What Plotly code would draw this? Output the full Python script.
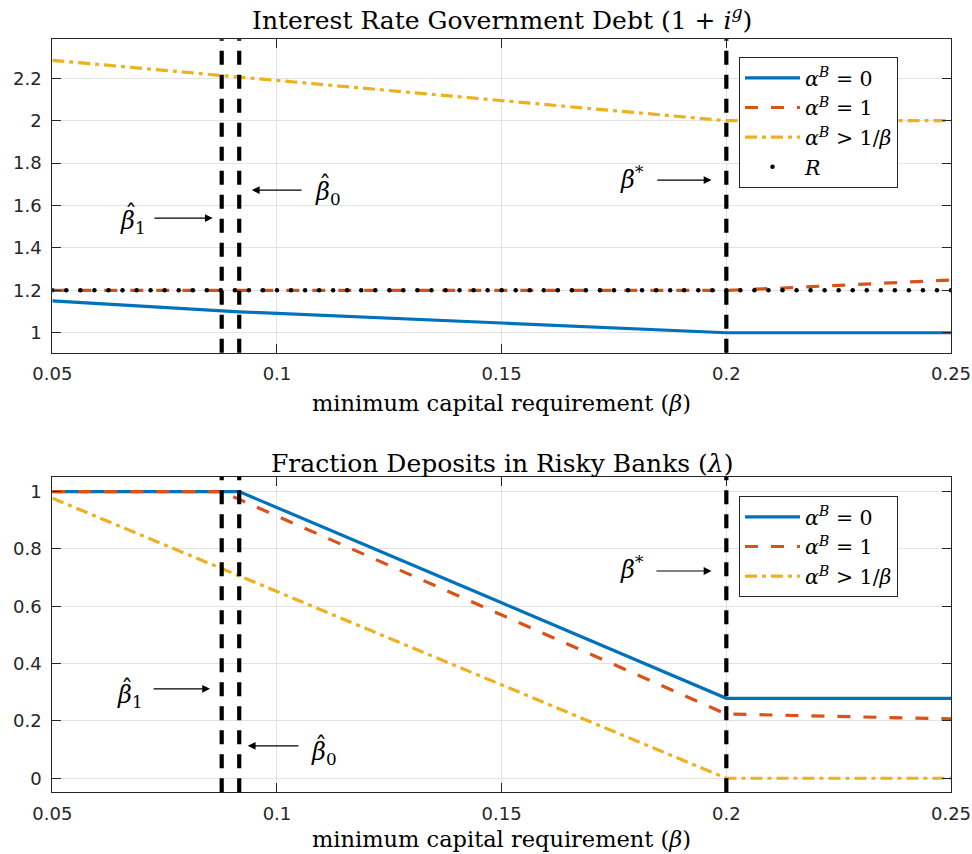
import plotly.graph_objects as go

# ---- data -------------------------------------------------------------
beta = [0.05, 0.0877, 0.0916, 0.15, 0.2, 0.2125, 0.225, 0.2375, 0.25]

# interest rate on government debt (1 + i^g)
rate_alpha0 = [1.150, 1.104, 1.099, 1.046, 1.000, 1.000, 1.000, 1.000, 1.000]
rate_alpha1 = [1.200, 1.200, 1.200, 1.200, 1.200, 1.211, 1.223, 1.236, 1.249]
rate_alpha_hi = [2.285, 2.214, 2.207, 2.095, 2.000, 2.000, 2.000, 2.000, 2.000]

# fraction of deposits in risky banks (lambda)
lam_alpha0 = [1.000, 1.000, 1.000, 0.612, 0.279, 0.279, 0.279, 0.279, 0.279]
lam_alpha1 = [1.000, 1.000, 0.973, 0.569, 0.224, 0.220, 0.216, 0.211, 0.207]
lam_alpha_hi = [0.977, 0.731, 0.706, 0.326, 0.000, 0.000, 0.000, 0.000, 0.000]

# gross return R on the fine beta grid
r_beta = [round(0.05 + 0.003125 * k, 6) for k in range(65)]
r_value = [1.2] * len(r_beta)

# thresholds
beta_hat_1 = 0.0877
beta_hat_0 = 0.0916
beta_star = 0.2

x_ticks = [0.05, 0.1, 0.15, 0.2, 0.25]
x_ticktext = ["0.05", "0.1", "0.15", "0.2", "0.25"]
y1_ticks = [1, 1.2, 1.4, 1.6, 1.8, 2, 2.2]
y1_ticktext = ["1", "1.2", "1.4", "1.6", "1.8", "2", "2.2"]
y2_ticks = [0, 0.2, 0.4, 0.6, 0.8, 1]
y2_ticktext = ["0", "0.2", "0.4", "0.6", "0.8", "1"]

names = ["<i>α</i><sup><i>B</i></sup> = 0",
         "<i>α</i><sup><i>B</i></sup> = 1",
         "<i>α</i><sup><i>B</i></sup> &gt; 1/<i>β</i>",
         "<i>R</i>"]

# ---- styles -----------------------------------------------------------
BLUE, RED, YELLOW = "#0072BD", "#D95319", "#EDB120"
AX = "#262626"
GRID = "#e3e3e3"
SERIF = "DejaVu Serif"
SANS = "DejaVu Sans"
LW = 3.2
DASH = "13px,13px"
DASHDOT = "12px,5px,4px,5px"
VDASH = "14px,10px"

fig = go.Figure()

panels = [
    ("x", "y", "legend", [rate_alpha0, rate_alpha1, rate_alpha_hi]),
    ("x2", "y2", "legend2", [lam_alpha0, lam_alpha1, lam_alpha_hi]),
]
for xa, ya, leg, series in panels:
    for vals, name, color, dash in zip(series, names[:3], [BLUE, RED, YELLOW],
                                       ["solid", DASH, DASHDOT]):
        fig.add_trace(go.Scatter(
            x=beta, y=vals, mode="lines", name=name, xaxis=xa, yaxis=ya,
            legend=leg, line=dict(color=color, width=LW, dash=dash)))
    if xa == "x":
        fig.add_trace(go.Scatter(
            x=r_beta, y=r_value, mode="markers", name=names[3],
            xaxis=xa, yaxis=ya, legend=leg,
            marker=dict(color="black", size=4.5)))

# ---- axes -------------------------------------------------------------
xdom = [52.3 / 972, 951 / 972]
common = dict(showline=True, linecolor=AX, linewidth=1.2, mirror="ticks",
              ticks="inside", ticklen=9, tickcolor=AX, tickwidth=1.2,
              showgrid=True, gridcolor=GRID, gridwidth=1, zeroline=False,
              automargin=False,
              tickfont=dict(family=SANS, size=18, color=AX))

fig.update_layout(
    xaxis=dict(domain=xdom, range=[0.05, 0.25], tickvals=x_ticks,
               ticktext=x_ticktext, anchor="y", ticklabelstandoff=5, **common),
    yaxis=dict(domain=[1 - 352.7 / 854, 1 - 39.3 / 854], range=[0.906, 2.384],
               tickvals=y1_ticks, ticktext=y1_ticktext, anchor="x",
               ticklabelstandoff=6, **common),
    xaxis2=dict(domain=xdom, range=[0.05, 0.25], tickvals=x_ticks,
                ticktext=x_ticktext, anchor="y2", ticklabelstandoff=5, **common),
    yaxis2=dict(domain=[1 - 792.3 / 854, 1 - 476.7 / 854], range=[-0.049, 1.052],
                tickvals=y2_ticks, ticktext=y2_ticktext, anchor="x2",
                ticklabelstandoff=6, **common),
)

# threshold lines
shapes = []
for xa, ya in [("x", "y"), ("x2", "y2")]:
    for b in [beta_hat_1, beta_hat_0, beta_star]:
        shapes.append(dict(type="line", xref=xa, yref=f"{ya} domain",
                           x0=b, x1=b, y0=0, y1=1, layer="above",
                           line=dict(color="black", width=4.2, dash=VDASH)))
fig.update_layout(shapes=shapes)

# ---- annotations ------------------------------------------------------
ann = []


def arrow(xa, ya, tail, head, y):
    ann.append(dict(x=head, y=y, ax=tail, ay=y, xref=xa, yref=ya,
                    axref=xa, ayref=ya, text="", showarrow=True,
                    arrowhead=2, arrowsize=1.3, arrowwidth=1.2,
                    arrowcolor="black", standoff=0, startstandoff=0))


def text(xa, ya, x, y, txt, anchor="center", size=24):
    ann.append(dict(x=x, y=y, xref=xa, yref=ya, text=txt, showarrow=False,
                    xanchor=anchor, yanchor="middle",
                    font=dict(family=SERIF, size=size, color="black")))


def hat_label(xa, ya, x, y, sub, hx, hy):
    # beta with subscript, plus a circumflex placed over the beta
    text(xa, ya, x, y, f"<i>β</i><sub>{sub}</sub>", anchor="left")
    text(xa, ya, hx, hy, "ˆ", size=24)


star = "<i>β</i><sup>*</sup>"

# top panel
arrow("x", "y", 0.0724, 0.0857, 1.541)
hat_label("x", "y", 0.0646, 1.522, "1", 0.0675, 1.560)
arrow("x", "y", 0.1058, 0.0944, 1.673)
hat_label("x", "y", 0.1080, 1.659, "0", 0.1107, 1.697)
arrow("x", "y", 0.1843, 0.1967, 1.720)
text("x", "y", 0.1790, 1.730, star)

# bottom panel
arrow("x2", "y2", 0.0722, 0.0851, 0.312)
hat_label("x2", "y2", 0.0640, 0.284, "1", 0.0666, 0.312)
arrow("x2", "y2", 0.1051, 0.0935, 0.113)
hat_label("x2", "y2", 0.1071, 0.085, "0", 0.1098, 0.113)
arrow("x2", "y2", 0.1841, 0.1967, 0.723)
text("x2", "y2", 0.1790, 0.733, star)

# titles and axis labels
xc = (xdom[0] + xdom[1]) / 2
for ytxt, txt in [(18, "Interest Rate Government Debt (1 + <i>i</i><sup><i>g</i></sup>)"),
                  (463, "Fraction Deposits in Risky Banks (<i>λ</i>)")]:
    ann.append(dict(x=xc, y=1 - ytxt / 854, xref="paper", yref="paper",
                    text=txt, showarrow=False, xanchor="center",
                    yanchor="middle",
                    font=dict(family=SERIF, size=25, color="black")))
for ytxt in [403, 839]:
    ann.append(dict(x=xc, y=1 - ytxt / 854, xref="paper", yref="paper",
                    text="minimum capital requirement (<i>β</i>)",
                    showarrow=False, xanchor="center", yanchor="middle",
                    font=dict(family=SERIF, size=22.5, color="black")))
fig.update_layout(annotations=ann)

# ---- legends ----------------------------------------------------------
legstyle = dict(xref="paper", yref="paper", xanchor="left", yanchor="top",
                bgcolor="white", bordercolor=AX, borderwidth=1,
                font=dict(family=SERIF, size=20.5, color="black"),
                itemwidth=55, tracegroupgap=0)
fig.update_layout(
    legend=dict(x=739 / 972, y=1 - 57 / 854, **legstyle),
    legend2=dict(x=739 / 972, y=1 - 496 / 854, **legstyle),
)

fig.update_layout(width=972, height=854, margin=dict(l=0, r=0, t=0, b=0),
                  paper_bgcolor="white", plot_bgcolor="white",
                  showlegend=True)

fig.write_html("out.html")
